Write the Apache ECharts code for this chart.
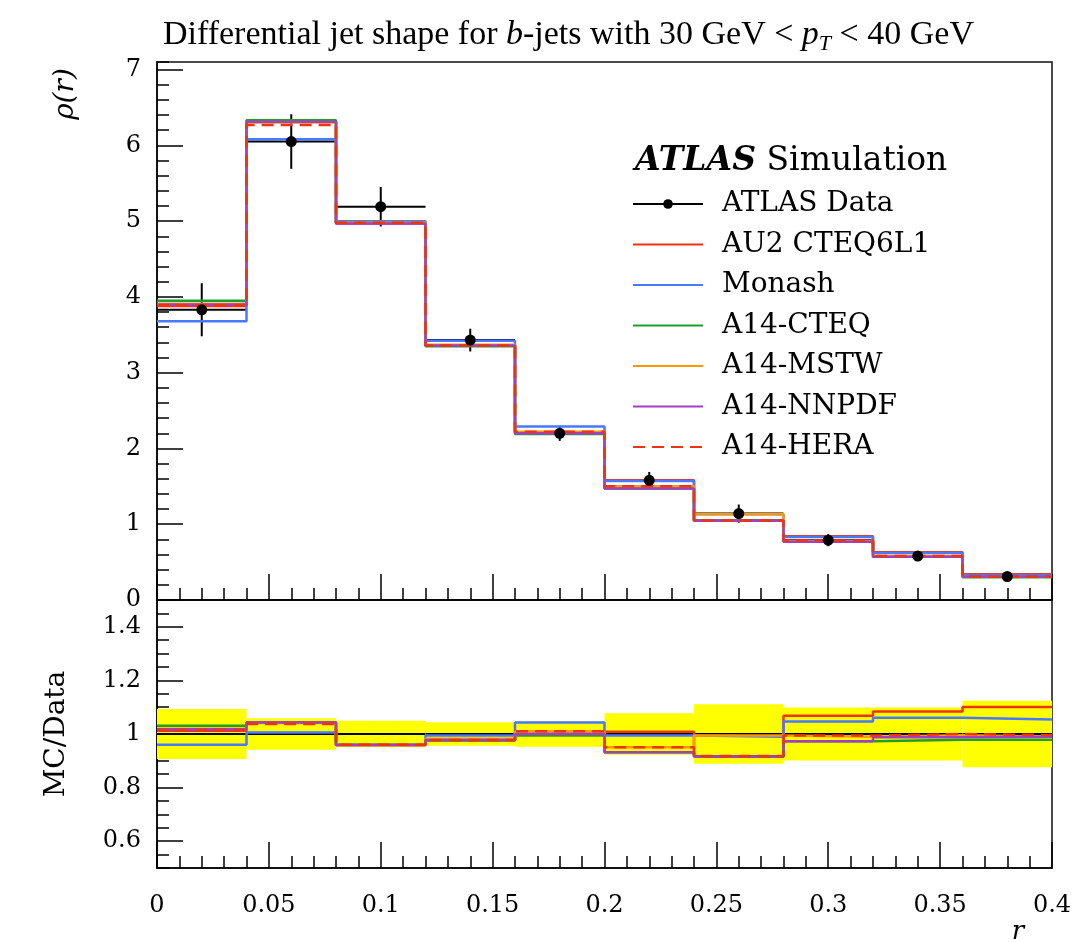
<!DOCTYPE html>
<html>
<head>
<meta charset="utf-8">
<title>Differential jet shape for b-jets</title>
<script src="https://cdn.jsdelivr.net/npm/echarts@6/dist/echarts.min.js"></script>
<style>
  html, body { margin: 0; padding: 0; background: #fff; }
  #chart { width: 1076px; height: 942px; }
</style>
</head>
<body>
<div id="chart"></div>
<script>
// bin edges in r
const binEdges = [0, 0.04, 0.08, 0.12, 0.16, 0.2, 0.24, 0.28, 0.32, 0.36, 0.4];

// ATLAS data, rho(r) per bin and its uncertainty
const dataRho = [3.83, 6.05, 5.19, 3.43, 2.20, 1.58, 1.14, 0.79, 0.58, 0.31];
const dataErr = [0.35, 0.36, 0.26, 0.15, 0.10, 0.11, 0.12, 0.08, 0.06, 0.04];
// relative data uncertainty (yellow band of the ratio panel)
const dataRelErr = [0.093, 0.059, 0.049, 0.044, 0.048, 0.077, 0.111, 0.099, 0.099, 0.124];

// MC predictions, rho(r)
const au2Rho    = [3.88, 6.31, 4.97, 3.36, 2.21, 1.58, 1.05, 0.84, 0.63, 0.34];
const monashRho = [3.68, 6.08, 5.00, 3.42, 2.29, 1.57, 1.13, 0.83, 0.62, 0.33];
const cteqRho   = [3.95, 6.33, 4.98, 3.35, 2.19, 1.47, 1.05, 0.77, 0.57, 0.30];
const mstwRho   = [3.91, 6.30, 4.98, 3.37, 2.22, 1.50, 1.13, 0.78, 0.58, 0.31];
const nnpdfRho  = [3.90, 6.31, 4.97, 3.36, 2.20, 1.47, 1.045, 0.77, 0.57, 0.31];
const heraRho   = [3.89, 6.27, 4.98, 3.36, 2.22, 1.50, 1.05, 0.785, 0.58, 0.31];

// MC / Data
const au2Ratio    = [1.012, 1.043, 0.960, 0.978, 1.008, 1.008, 0.917, 1.068, 1.084, 1.101];
const monashRatio = [0.960, 1.006, 0.962, 0.994, 1.043, 0.994, 0.990, 1.047, 1.061, 1.054];
const cteqRatio   = [1.031, 1.043, 0.960, 0.976, 0.994, 0.932, 0.916, 0.973, 0.979, 0.979];
const mstwRatio   = [1.020, 1.041, 0.960, 0.982, 1.008, 0.951, 0.994, 0.990, 0.995, 0.990];
const nnpdfRatio  = [1.018, 1.043, 0.958, 0.978, 1.000, 0.932, 0.916, 0.973, 0.988, 0.990];
const heraRatio   = [1.015, 1.037, 0.960, 0.978, 1.010, 0.951, 0.918, 0.994, 1.000, 0.996];

const models = [
  { name: "AU2 CTEQ6L1", color: "#ee3311", dash: "solid", rho: au2Rho, ratio: au2Ratio },
  { name: "Monash", color: "#4a78ff", dash: "solid", rho: monashRho, ratio: monashRatio },
  { name: "A14-CTEQ", color: "#1f9e2a", dash: "solid", rho: cteqRho, ratio: cteqRatio },
  { name: "A14-MSTW", color: "#ff9900", dash: "solid", rho: mstwRho, ratio: mstwRatio },
  { name: "A14-NNPDF", color: "#a23fc4", dash: "solid", rho: nnpdfRho, ratio: nnpdfRatio },
  { name: "A14-HERA", color: "#ee3311", dash: [12, 7], rho: heraRho, ratio: heraRatio },
];

const serif = "DejaVu Serif";

// histogram -> points for a step line
function histPoints(vals) {
  const pts = vals.map((v, i) => [binEdges[i], v]);
  pts.push([binEdges[binEdges.length - 1], vals[vals.length - 1]]);
  return pts;
}

const chart = echarts.init(document.getElementById("chart"));

const series = [];

// yellow band + line at 1 in the ratio
series.push({
  type: "custom",
  xAxisIndex: 2,
  yAxisIndex: 2,
  z: 1,
  silent: true,
  data: dataRelErr.map((e, i) => [binEdges[i], binEdges[i + 1], e]),
  renderItem(params, api) {
    const lo = api.value(0), hi = api.value(1), e = api.value(2);
    const p1 = api.coord([lo, 1 + e]);
    const p2 = api.coord([hi, 1 - e]);
    const a = api.coord([lo, 1]);
    const b = api.coord([hi, 1]);
    return {
      type: "group",
      children: [
        { type: "rect", shape: { x: p1[0], y: p1[1], width: p2[0] - p1[0], height: p2[1] - p1[1] }, style: { fill: "#ffff00" } },
        { type: "line", shape: { x1: a[0], y1: a[1], x2: b[0], y2: b[1] }, style: { stroke: "#000", lineWidth: 2 } },
      ],
    };
  },
});

// data error bars (under the MC lines)
series.push({
  type: "custom",
  xAxisIndex: 0,
  yAxisIndex: 0,
  z: 2,
  silent: true,
  data: dataRho.map((v, i) => [binEdges[i], binEdges[i + 1], v, dataErr[i]]),
  renderItem(params, api) {
    const lo = api.value(0), hi = api.value(1), v = api.value(2), e = api.value(3);
    const c = (lo + hi) / 2;
    const pl = api.coord([lo, v]), pr = api.coord([hi, v]);
    const pt = api.coord([c, v + e]), pb = api.coord([c, v - e]);
    return {
      type: "group",
      children: [
        { type: "line", shape: { x1: pl[0], y1: pl[1], x2: pr[0], y2: pr[1] }, style: { stroke: "#000", lineWidth: 2 } },
        { type: "line", shape: { x1: pt[0], y1: pt[1], x2: pb[0], y2: pb[1] }, style: { stroke: "#000", lineWidth: 2 } },
      ],
    };
  },
});

models.forEach((m) => {
  series.push({
    name: m.name,
    type: "line",
    step: "end",
    xAxisIndex: 0,
    yAxisIndex: 0,
    symbol: "none",
    z: 3,
    lineStyle: { color: m.color, width: 2.5, type: m.dash },
    itemStyle: { color: m.color },
    data: histPoints(m.rho),
  });
  series.push({
    name: m.name,
    type: "line",
    step: "end",
    xAxisIndex: 2,
    yAxisIndex: 2,
    symbol: "none",
    z: 3,
    lineStyle: { color: m.color, width: 2.5, type: m.dash },
    itemStyle: { color: m.color },
    data: histPoints(m.ratio),
  });
});

// data points
series.push({
  name: "ATLAS Data",
  type: "line",
  xAxisIndex: 0,
  yAxisIndex: 0,
  z: 6,
  symbol: "circle",
  symbolSize: 11,
  showSymbol: true,
  itemStyle: { color: "#000" },
  lineStyle: { color: "#000", width: 2, opacity: 0 },
  data: dataRho.map((v, i) => [(binEdges[i] + binEdges[i + 1]) / 2, v]),
});

const tickLine = { color: "#000", width: 1.5 };
const labelStyle = { fontFamily: serif, fontSize: 24, color: "#000" };

const option = {
  animation: false,
  backgroundColor: "#fff",
  title: [
    {
      text: "Differential jet shape for {it|b}-jets with 30 GeV < {it|p}{sub|T} < 40 GeV",
      left: 158,
      top: 10,
      textStyle: {
        fontFamily: "Liberation Serif",
        fontSize: 34,
        fontWeight: "normal",
        color: "#000",
        lineHeight: 40,
        rich: {
          it: { fontFamily: "Liberation Serif", fontSize: 34, fontStyle: "italic", color: "#000" },
          sub: { fontFamily: "Liberation Serif", fontSize: 22, fontStyle: "italic", color: "#000", lineHeight: 16, verticalAlign: "bottom" },
        },
      },
    },
    {
      text: "{b|ATLAS} Simulation",
      left: 630,
      top: 140,
      textStyle: {
        fontFamily: serif,
        fontSize: 33,
        fontWeight: "normal",
        color: "#000",
        rich: {
          b: { fontFamily: serif, fontSize: 33, fontWeight: "bold", fontStyle: "italic", color: "#000" },
        },
      },
    },
  ],
  legend: {
    orient: "vertical",
    left: 632,
    top: 189,
    padding: 0,
    itemWidth: 70,
    itemHeight: 12,
    itemGap: 10.5,
    textStyle: { fontFamily: serif, fontSize: 28, color: "#000", lineHeight: 30, padding: [0, 0, 0, 14] },
    data: [
      { name: "ATLAS Data", lineStyle: { opacity: 1, color: "#000", width: 2 } },
      ...models.map((m) => ({ name: m.name, itemStyle: { opacity: 0 } })),
    ],
  },
  grid: [
    { left: 157, top: 62, width: 895, height: 538, show: true, borderColor: "#111", borderWidth: 1.5 },
    { left: 157, top: 600, width: 895, height: 268, show: true, borderColor: "#111", borderWidth: 1.5 },
  ],
  xAxis: [
    {
      gridIndex: 0, type: "value", position: "bottom", min: 0, max: 0.4, interval: 0.05,
      axisLine: { show: true, lineStyle: tickLine },
      axisTick: { show: true, inside: true, length: 26, lineStyle: tickLine },
      axisLabel: { show: false },
      splitLine: { show: false },
    },
    {
      gridIndex: 0, type: "value", position: "bottom", min: 0, max: 0.4, interval: 0.01,
      axisLine: { show: false },
      axisTick: { show: true, inside: true, length: 12, lineStyle: tickLine },
      axisLabel: { show: false },
      splitLine: { show: false },
    },
    {
      gridIndex: 1, type: "value", position: "bottom", min: 0, max: 0.4, interval: 0.05,
      axisLine: { show: true, lineStyle: tickLine },
      axisTick: { show: true, inside: true, length: 26, lineStyle: tickLine },
      axisLabel: Object.assign({ margin: 26 }, labelStyle),
      splitLine: { show: false },
    },
    {
      gridIndex: 1, type: "value", position: "bottom", min: 0, max: 0.4, interval: 0.01,
      axisLine: { show: false },
      axisTick: { show: true, inside: true, length: 12, lineStyle: tickLine },
      axisLabel: { show: false },
      splitLine: { show: false },
    },
  ],
  yAxis: [
    {
      gridIndex: 0, type: "value", position: "left", min: 0, max: 7.1, interval: 1,
      axisLine: { show: true, lineStyle: tickLine },
      axisTick: { show: true, inside: true, length: 26, lineStyle: tickLine },
      axisLabel: Object.assign({ margin: 16, showMaxLabel: false }, labelStyle),
      splitLine: { show: false },
    },
    {
      gridIndex: 0, type: "value", position: "left", min: 0, max: 7.1, interval: 0.2,
      axisLine: { show: false },
      axisTick: { show: true, inside: true, length: 12, lineStyle: tickLine },
      axisLabel: { show: false },
      splitLine: { show: false },
    },
    {
      gridIndex: 1, type: "value", position: "left", min: 0.5, max: 1.5, splitNumber: 5,
      name: "MC/Data",
      nameLocation: "middle",
      nameGap: 86,
      nameRotate: 90,
      nameTextStyle: { fontFamily: serif, fontSize: 28, color: "#000" },
      axisLine: { show: true, lineStyle: tickLine },
      axisTick: { show: true, inside: true, length: 26, lineStyle: tickLine },
      axisLabel: Object.assign({ margin: 16, showMaxLabel: false, showMinLabel: false }, labelStyle),
      splitLine: { show: false },
    },
    {
      gridIndex: 1, type: "value", position: "left", min: 0.5, max: 1.5, interval: 0.05,
      axisLine: { show: false },
      axisTick: { show: true, inside: true, length: 12, lineStyle: tickLine },
      axisLabel: { show: false },
      splitLine: { show: false },
    },
  ],
  graphic: [
    {
      type: "text",
      x: 66,
      y: 94,
      rotation: Math.PI / 2,
      style: {
        text: "{i|ρ}(r)",
        fill: "#000",
        font: "italic 28px 'DejaVu Serif'",
        align: "center",
        verticalAlign: "middle",
        rich: { i: { fontFamily: serif, fontSize: 28, fontStyle: "italic" } },
      },
    },
    {
      type: "text",
      x: 1018,
      y: 932,
      style: {
        text: "r",
        fill: "#000",
        font: "italic 26px 'DejaVu Serif'",
        align: "center",
        verticalAlign: "middle",
      },
    },
  ],
  series: series,
};

chart.setOption(option);
</script>
</body>
</html>
